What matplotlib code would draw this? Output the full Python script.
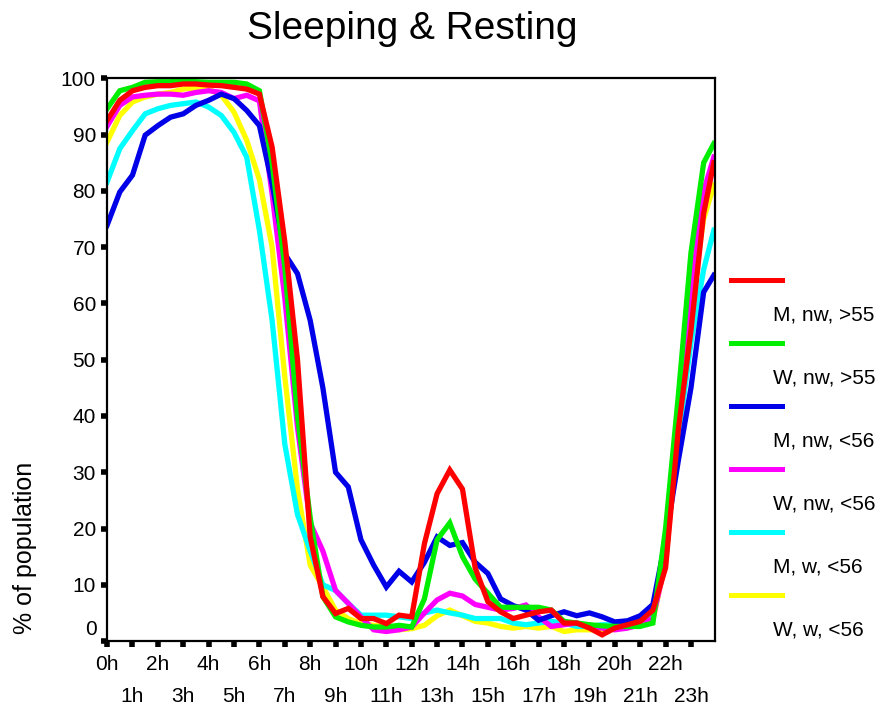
import numpy as np
import matplotlib
matplotlib.use('Agg')
from matplotlib import pyplot as plt
from matplotlib.lines import Line2D

plt.rcParams['font.family'] = ['Liberation Sans', 'DejaVu Sans']

# half-hour samples, last one just before midnight
hours = list(np.arange(0, 24, 0.5)) + [23.9]

m_nw_old = [92.5, 96.1, 97.8, 98.4, 98.7, 98.7, 99.0, 99.0, 98.8, 98.7, 98.4, 98.1,
            97.2, 87.8, 71.0, 50.0, 18.5, 7.9, 4.9, 5.8, 4.0, 4.0, 3.1, 4.6,
            4.3, 17.3, 26.2, 30.4, 27.0, 13.0, 7.0, 5.2, 4.0, 4.6, 5.2, 5.5,
            3.2, 3.2, 2.3, 1.1, 2.3, 2.9, 3.5, 5.5, 13.0, 37.5, 55.2, 76.0, 85.0]
w_nw_old = [94.6, 97.8, 98.4, 99.3, 99.4, 99.4, 99.6, 99.4, 99.3, 99.3, 99.3, 99.0,
            97.8, 85.0, 66.5, 40.0, 22.0, 7.9, 4.3, 3.4, 2.8, 2.5, 2.5, 2.8,
            2.5, 7.5, 18.0, 21.0, 15.0, 11.0, 8.5, 6.0, 6.0, 6.0, 6.0, 5.5,
            3.5, 3.2, 2.9, 2.7, 2.6, 2.6, 2.6, 3.2, 20.0, 43.5, 69.0, 85.0, 88.4]
m_nw_young = [73.9, 79.8, 82.8, 89.9, 91.6, 93.1, 93.7, 95.2, 96.1, 97.2, 96.4, 94.3,
              91.6, 81.3, 68.8, 65.3, 57.0, 45.0, 30.0, 27.4, 18.0, 13.5, 9.6, 12.4,
              10.5, 14.0, 18.5, 17.0, 17.5, 14.0, 12.0, 7.5, 6.3, 5.5, 3.7, 4.5,
              5.2, 4.5, 5.0, 4.3, 3.4, 3.6, 4.5, 6.5, 18.0, 32.0, 45.0, 62.0, 65.0]
w_nw_young = [91.5, 95.2, 96.7, 97.0, 97.2, 97.2, 97.0, 97.5, 97.8, 97.5, 96.4, 97.0,
              96.0, 79.5, 61.0, 38.0, 21.0, 16.0, 9.0, 6.7, 4.3, 2.0, 1.7, 2.0,
              2.5, 5.0, 7.3, 8.5, 8.0, 6.5, 6.0, 5.5, 5.8, 6.4, 4.3, 2.6,
              2.9, 3.2, 2.6, 2.3, 2.0, 2.3, 2.9, 4.0, 14.0, 40.0, 62.0, 80.0, 86.0]
m_w_young = [81.6, 87.5, 90.7, 93.7, 94.6, 95.2, 95.5, 95.8, 94.9, 93.4, 90.4, 86.0,
             73.0, 57.0, 35.0, 22.5, 16.0, 10.0, 9.0, 6.7, 4.6, 4.6, 4.6, 4.3,
             4.0, 5.0, 5.5, 5.0, 4.6, 4.0, 4.0, 4.0, 3.2, 2.9, 3.2, 3.5,
             3.2, 2.6, 2.6, 2.9, 2.9, 3.2, 3.5, 4.3, 16.0, 36.0, 53.0, 66.0, 73.0]
w_w_young = [88.7, 93.4, 95.8, 96.7, 97.2, 97.5, 98.1, 98.3, 98.1, 97.0, 94.0, 89.0,
             82.0, 70.0, 47.0, 27.0, 13.5, 9.6, 5.5, 4.0, 3.1, 2.8, 2.5, 2.0,
             2.2, 2.8, 4.5, 5.5, 4.5, 3.5, 3.2, 2.6, 2.3, 2.6, 2.3, 2.6,
             1.7, 2.0, 2.0, 2.0, 2.3, 2.6, 2.9, 3.7, 14.0, 38.0, 60.0, 75.0, 81.0]

labels = ['M, nw, >55', 'W, nw, >55', 'M, nw, <56', 'W, nw, <56', 'M, w, <56', 'W, w, <56']
colors = ['#ff0000', '#00ee00', '#0000e8', '#ff00ff', '#00ffff', '#ffff00']
series = [m_nw_old, w_nw_old, m_nw_young, w_nw_young, m_w_young, w_w_young]

fig = plt.figure(figsize=(8.85, 7.06), dpi=100)
ax = fig.add_axes([0.121, 0.092, 0.687, 0.797])

# draw yellow first so red ends up on top
for vals, c in list(zip(series, colors))[::-1]:
    ax.plot(hours, vals, color=c, lw=3.8, solid_joinstyle='miter')

ax.set_xlim(0, 23.95)
ax.set_ylim(0, 100)

ax.set_xticks(range(0, 24, 2))
ax.set_xticklabels(['%dh' % h for h in range(0, 24, 2)])
ax.set_xticks(range(1, 24, 2), minor=True)
ax.set_xticklabels(['%dh' % h for h in range(1, 24, 2)], minor=True)
ax.tick_params(axis='x', which='major', direction='out', length=4, width=4, pad=6, labelsize=15)
ax.tick_params(axis='x', which='minor', direction='out', length=4, width=4, pad=29, labelsize=15)

yt = list(range(0, 101, 10))
ax.set_yticks(yt)
ax.set_yticklabels([''] + [str(v) for v in yt[1:]])
ax.tick_params(axis='y', direction='out', length=4, width=4, pad=4, labelsize=15)
# the zero label sits a bit higher in the original
ax.annotate('0', xy=(0, 0), xycoords=('axes fraction', 'data'), xytext=(-7, 8),
            textcoords='offset points', ha='right', va='center', fontsize=15)

for s in ax.spines.values():
    s.set_linewidth(1.6)

ax.set_ylabel('% of population', fontsize=18, va='center')
ax.yaxis.set_label_coords(-0.135, 0.165)
fig.suptitle('Sleeping & Resting', fontsize=28, x=0.466, y=0.985)

# legend: each label sits under its line sample
for i, (lab, c) in enumerate(zip(labels, colors)):
    yl = 0.603 - i * 0.0892
    fig.add_artist(Line2D([0.826, 0.884], [yl, yl], color=c, lw=3.6))
    fig.text(0.873, yl - 0.0496, lab, fontsize=15, va='center', ha='left')

plt.savefig('out.png', dpi=100)
print("out.png saved")
